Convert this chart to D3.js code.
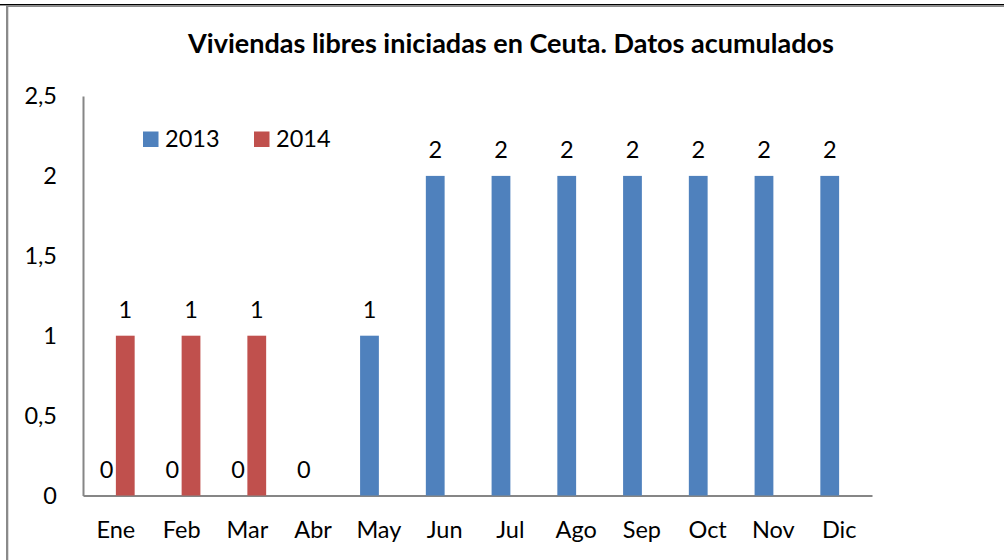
<!DOCTYPE html>
<html>
<head>
<meta charset="utf-8">
<script src="https://cdn.jsdelivr.net/npm/d3@7"></script>
<style>
  body { margin: 0; background: #fff; }
  svg text { font-family: Lato, "Open Sans", sans-serif; fill: #000; }
</style>
</head>
<body>
<div id="chart"></div>
<script>
// chart data
var months = ["Ene", "Feb", "Mar", "Abr", "May", "Jun", "Jul", "Ago", "Sep", "Oct", "Nov", "Dic"];
var seriesNames = ["2013", "2014"];
var values2013 = [0, 0, 0, 0, 1, 2, 2, 2, 2, 2, 2, 2];
var values2014 = [1, 1, 1, null, null, null, null, null, null, null, null, null];
var yTicks = [0, 0.5, 1, 1.5, 2, 2.5];
var colors = ["#4F81BD", "#C0504D"];
var title = "Viviendas libres iniciadas en Ceuta. Datos acumulados";

var width = 1004, height = 560;
var fontSize = "23.5px";

var svg = d3.select("#chart").append("svg")
    .attr("width", width)
    .attr("height", height);

// outer frame (only top and left edges are visible)
svg.append("rect").attr("x", 0).attr("y", 4).attr("width", width).attr("height", 1.4).attr("fill", "#000");
svg.append("rect").attr("x", 6).attr("y", 5.4).attr("width", width - 6).attr("height", 1.6).attr("fill", "#8a8a8a");
svg.append("rect").attr("x", 6).attr("y", 5.4).attr("width", 2.3).attr("height", height).attr("fill", "#8a8a8a");

// scales
var plot = {left: 83, right: 872, top: 96, bottom: 495.5};

var x0 = d3.scaleBand()
    .domain(months)
    .range([plot.left, plot.right])
    .paddingInner(1.5 / 3.5)
    .paddingOuter(0.75 / 3.5);

var x1 = d3.scaleBand()
    .domain(seriesNames)
    .range([0, x0.bandwidth()]);

var y = d3.scaleLinear()
    .domain([0, 2.5])
    .range([plot.bottom, plot.top]);

var fmt = function (d) { return String(d).replace(".", ","); };

// title
svg.append("text")
    .attr("x", 511)
    .attr("y", 53)
    .attr("text-anchor", "middle")
    .style("font-weight", "bold")
    .style("font-size", "27px")
    .text(title);

// y axis
var yAxis = svg.append("g")
    .attr("transform", "translate(" + plot.left + ",0)")
    .call(d3.axisLeft(y).tickValues(yTicks).tickSize(0).tickPadding(26).tickFormat(fmt));
yAxis.select(".domain").attr("stroke", "#868686").attr("stroke-width", 2);
yAxis.selectAll("text").style("font-size", fontSize).style("font-family", "Lato, 'Open Sans', sans-serif");

// x axis
var xAxis = svg.append("g")
    .attr("transform", "translate(0," + plot.bottom + ")")
    .call(d3.axisBottom(x0).tickSize(0).tickPadding(26).tickSizeOuter(0));
xAxis.select(".domain").attr("stroke", "#868686").attr("stroke-width", 2);
xAxis.selectAll("text").style("font-size", fontSize).style("font-family", "Lato, 'Open Sans', sans-serif");

// bars
var series = [values2013, values2014];
series.forEach(function (vals, si) {
    var rows = months.map(function (m, i) { return {m: m, v: vals[i]}; })
        .filter(function (d) { return d.v !== null; });

    var g = svg.append("g");
    g.selectAll("rect")
        .data(rows)
        .enter().append("rect")
        .attr("x", function (d) { return x0(d.m) + x1(seriesNames[si]); })
        .attr("y", function (d) { return y(d.v); })
        .attr("width", x1.bandwidth())
        .attr("height", function (d) { return y(0) - y(d.v); })
        .attr("fill", colors[si]);

    // data labels
    g.selectAll("text")
        .data(rows)
        .enter().append("text")
        .attr("x", function (d) { return x0(d.m) + x1(seriesNames[si]) + x1.bandwidth() / 2; })
        .attr("y", function (d) { return y(d.v) - 18; })
        .attr("text-anchor", "middle")
        .style("font-size", fontSize)
        .text(function (d) { return fmt(d.v); });
});

// legend
var legendX = [143, 254];
var legend = svg.append("g");
seriesNames.forEach(function (name, i) {
    legend.append("rect")
        .attr("x", legendX[i])
        .attr("y", 131.5)
        .attr("width", 15.5)
        .attr("height", 15.5)
        .attr("fill", colors[i]);
    legend.append("text")
        .attr("x", legendX[i] + 22)
        .attr("y", 147)
        .style("font-size", fontSize)
        .text(name);
});
</script>
</body>
</html>
